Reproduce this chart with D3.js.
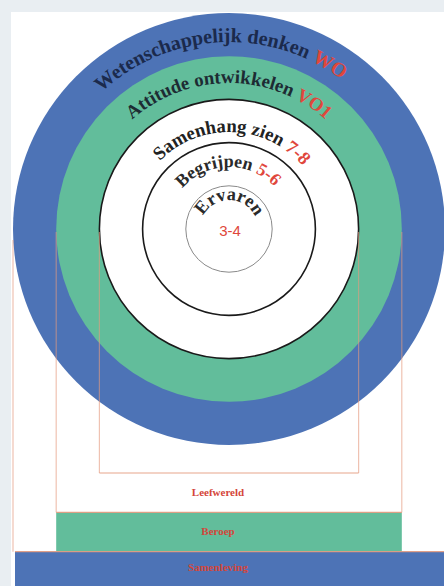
<!DOCTYPE html>
<html>
<style>
body { margin: 0; background: #e9eef2; }
</style>
<body>
<script src="https://d3js.org/d3.v7.min.js"></script>
<script>
// rings, from the inside out
var ringLabels = ["Ervaren", "Begrijpen", "Samenhang zien", "Attitude ontwikkelen", "Wetenschappelijk denken"];
var ringLevels = ["3-4", "5-6", "7-8", "VO1", "WO"];
// context bars, from top to bottom
var contexts = ["Leefwereld", "Beroep", "Samenleving"];

var W = 444, H = 586;
var cx = 229, cy = 229;

var svg = d3.select("body")
  .append("svg")
  .attr("width", W)
  .attr("height", H);

// white panel
svg.append("rect")
  .attr("x", 11).attr("y", 12)
  .attr("width", W - 11).attr("height", H - 12)
  .attr("fill", "#ffffff");

var rScale = d3.scaleLinear().domain([0, ringLabels.length]).range([0, 216]);
var ringFill = ["#ffffff", "#ffffff", "#ffffff", "#62bd9b", "#4d73b6"];
var ringStroke = ["#8a8a8a", "#1a1a1a", "#1a1a1a", "none", "none"];
var ringStrokeW = [1, 1.6, 1.6, 0, 0];

// bars under the circles
var yBar = d3.scaleBand().domain(contexts).range([473, 591]).paddingInner(0);
var barRing = [2, 3, 4];
var barFill = ["#ffffff", "#62bd9b", "#4d73b6"];
var lineColor = "#e49a7e";

var bars = svg.append("g");
contexts.forEach(function(c, i) {
  var r = rScale(barRing[i] + 1);
  var x0 = Math.max(cx - r, 15), x1 = Math.min(cx + r, W);
  bars.append("rect")
    .attr("x", x0).attr("y", yBar(c))
    .attr("width", x1 - x0).attr("height", yBar.bandwidth())
    .attr("fill", barFill[i]);
});

// circles, biggest first
var rings = svg.append("g");
d3.range(ringLabels.length).reverse().forEach(function(i) {
  rings.append("circle")
    .attr("cx", cx).attr("cy", cy)
    .attr("r", rScale(i + 1))
    .attr("fill", ringFill[i])
    .attr("stroke", ringStroke[i])
    .attr("stroke-width", ringStrokeW[i]);
});

// thin frame lines over everything
var lines = svg.append("g")
  .attr("stroke", lineColor)
  .attr("stroke-width", 1.2)
  .attr("fill", "none");
var lineTop = [232, 232, 240];
contexts.forEach(function(c, i) {
  var r = rScale(barRing[i] + 1);
  var bottom = yBar(c);
  var x0 = cx - r, x1 = cx + r;
  lines.append("line").attr("x1", x0).attr("x2", x0).attr("y1", lineTop[i]).attr("y2", bottom)
    .attr("opacity", 0.6);
  if (x1 < W) {
    lines.append("line").attr("x1", x1).attr("x2", x1).attr("y1", lineTop[i]).attr("y2", bottom)
      .attr("opacity", 0.6);
  }
  lines.append("line")
    .attr("x1", Math.max(x0, 15)).attr("x2", Math.min(x1, W))
    .attr("y1", bottom).attr("y2", bottom)
    .attr("opacity", 0.9);
});

// bar labels
contexts.forEach(function(c, i) {
  svg.append("text")
    .attr("x", 218)
    .attr("y", yBar(c) + yBar.bandwidth() / 2 + (i == 2 ? 0 : 3))
    .attr("text-anchor", "middle")
    .attr("font-family", "Liberation Serif, serif")
    .attr("font-weight", "bold")
    .attr("font-size", 11)
    .attr("fill", "#d4463b")
    .text(c);
});

// curved ring labels
var textR = [29, 62, 97, 146, 187];
var textSpan = [128, 96, 95, 83, 80];   // degrees covered by the label
var textRot = [1, -1, 2, 0, -3];
var textColor = ["#2a2a2a", "#2a2a2a", "#222222", "#1d2b33", "#1b2a4c"];
var defs = svg.append("defs");

ringLabels.forEach(function(lbl, i) {
  var r = textR[i];
  defs.append("path")
    .attr("id", "arc" + i)
    .attr("d", "M" + cx + "," + (cy + r) +
      " A" + r + "," + r + " 0 1 1 " + cx + "," + (cy - r) +
      " A" + r + "," + r + " 0 1 1 " + cx + "," + (cy + r));

  var g = svg.append("g")
    .attr("transform", "rotate(" + textRot[i] + "," + cx + "," + cy + ")");
  var t = g.append("text")
    .attr("font-family", "Liberation Serif, serif")
    .attr("font-weight", "bold")
    .attr("font-size", 16);
  var tp = t.append("textPath")
    .attr("href", "#arc" + i)
    .attr("startOffset", "50%")
    .attr("text-anchor", "middle");
  tp.append("tspan").attr("fill", textColor[i]).text(lbl);
  if (i > 0) {
    tp.append("tspan").attr("fill", "#e0473c").text(" " + ringLevels[i]);
  }
  // fit the label to its arc
  var len = t.node().getComputedTextLength();
  var target = r * textSpan[i] * Math.PI / 180;
  t.attr("font-size", 16 * target / len);
});

// level of the inner circle sits flat
svg.append("text")
  .attr("x", cx + 1)
  .attr("y", cy + 7)
  .attr("text-anchor", "middle")
  .attr("font-family", "Liberation Sans, sans-serif")
  .attr("font-size", 15)
  .attr("fill", "#e0473c")
  .text(ringLevels[0]);
</script>
</body>
</html>
